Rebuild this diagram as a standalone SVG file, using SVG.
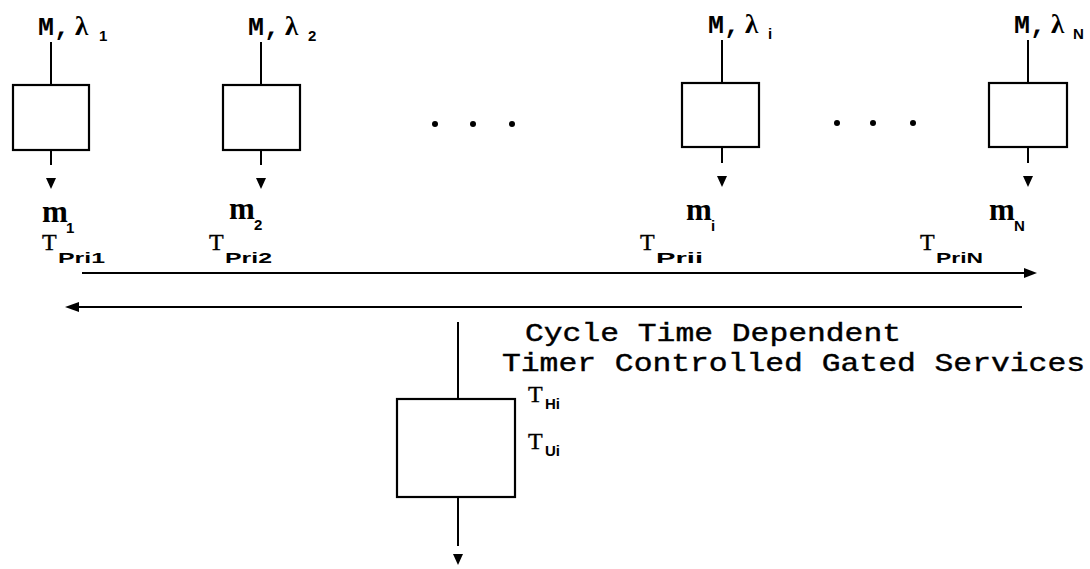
<svg xmlns="http://www.w3.org/2000/svg" width="1090" height="569" viewBox="0 0 1090 569">
<style>
.box{fill:#fff;stroke:#000;stroke-width:2.2}
.ln{stroke:#000;stroke-width:2;fill:none}
.tri{fill:#000}
.lbl{font-family:"Liberation Mono",monospace;font-weight:bold;font-size:25px;fill:#000}
.lam{font-family:"Liberation Serif",serif;font-weight:bold;font-size:27px;fill:#000}
.sub{font-family:"Liberation Sans",sans-serif;font-weight:bold;font-size:15px;fill:#000}
.mm{font-family:"Liberation Serif",serif;font-weight:bold;font-size:31px;fill:#000}
.tt{font-family:"Liberation Serif",serif;font-size:24px;fill:#000;stroke:#000;stroke-width:0.4}
.cap{font-family:"Liberation Mono",monospace;font-size:25px;fill:#000;stroke:#000;stroke-width:0.4}
</style>
<defs>
<polygon id="down" class="tri" points="-5,0 5,0 0,11"/>
</defs>
<g id="node1">
<rect class="box" x="13" y="85" width="76" height="65"/>
<text class="lbl" x="38" y="35" textLength="32" lengthAdjust="spacingAndGlyphs">M,</text><text class="lam" x="75" y="35">λ</text><text class="sub" x="99" y="41">1</text>
<text class="mm" x="42" y="222">m</text><text class="sub" x="66" y="233">1</text>
<text class="tt" x="42" y="250">T</text><text class="sub" x="58" y="263" textLength="47" lengthAdjust="spacingAndGlyphs">Pri1</text>
</g>
<g id="node2">
<rect class="box" x="223" y="85" width="77" height="65"/>
<text class="lbl" x="248" y="35" textLength="32" lengthAdjust="spacingAndGlyphs">M,</text><text class="lam" x="285" y="35">λ</text><text class="sub" x="308" y="41">2</text>
<text class="mm" x="229" y="219">m</text><text class="sub" x="254" y="230">2</text>
<text class="tt" x="209" y="250">T</text><text class="sub" x="225" y="263" textLength="47" lengthAdjust="spacingAndGlyphs">Pri2</text>
</g>
<g id="node3">
<rect class="box" x="682" y="83" width="77" height="64"/>
<text class="lbl" x="708" y="33" textLength="32" lengthAdjust="spacingAndGlyphs">M,</text><text class="lam" x="745" y="33">λ</text><text class="sub" x="768" y="39">i</text>
<text class="mm" x="686" y="220">m</text><text class="sub" x="711" y="231">i</text>
<text class="tt" x="640" y="250">T</text><text class="sub" x="656" y="263" textLength="47" lengthAdjust="spacingAndGlyphs">Prii</text>
</g>
<g id="node4">
<rect class="box" x="989" y="83" width="78" height="64"/>
<text class="lbl" x="1014" y="33" textLength="32" lengthAdjust="spacingAndGlyphs">M,</text><text class="lam" x="1051" y="33">λ</text><text class="sub" x="1073" y="39">N</text>
<text class="mm" x="989" y="220">m</text><text class="sub" x="1014" y="231">N</text>
<text class="tt" x="920" y="250">T</text><text class="sub" x="936" y="263" textLength="47" lengthAdjust="spacingAndGlyphs">PriN</text>
</g>
<g id="server">
<rect class="box" x="397" y="399" width="118" height="98"/>
<text class="tt" x="528" y="402">T</text><text class="sub" x="545" y="409">Hi</text>
<text class="tt" x="528" y="449">T</text><text class="sub" x="545" y="456">Ui</text>
</g>
<g id="caption">
<text class="cap" x="525" y="341" textLength="376" lengthAdjust="spacingAndGlyphs">Cycle Time Dependent</text>
<text class="cap" x="502" y="371" textLength="583" lengthAdjust="spacingAndGlyphs">Timer Controlled Gated Services</text>
</g>
<g id="ellipsis" class="tri">
<circle cx="435" cy="124" r="3"/><circle cx="473" cy="124" r="3"/><circle cx="512" cy="124" r="3"/>
<circle cx="837" cy="123" r="3"/><circle cx="873" cy="123" r="3"/><circle cx="913" cy="123" r="3"/>
</g>
<g id="connectors">
<line class="ln" x1="51" y1="42" x2="51" y2="85"/>
<line class="ln" x1="51" y1="150" x2="51" y2="165"/>
<use href="#down" x="51" y="178"/>
<line class="ln" x1="261" y1="42" x2="261" y2="85"/>
<line class="ln" x1="261" y1="150" x2="261" y2="165"/>
<use href="#down" x="261" y="178"/>
<line class="ln" x1="722" y1="40" x2="722" y2="83"/>
<line class="ln" x1="722" y1="147" x2="722" y2="163"/>
<use href="#down" x="722" y="176"/>
<line class="ln" x1="1028" y1="40" x2="1028" y2="83"/>
<line class="ln" x1="1028" y1="147" x2="1028" y2="163"/>
<use href="#down" x="1028" y="176"/>
<line class="ln" x1="82" y1="273" x2="1025" y2="273"/>
<polygon class="tri" points="1024,268 1037,273 1024,278"/>
<line class="ln" x1="78" y1="307" x2="1022" y2="307"/>
<polygon class="tri" points="79,302 65,307 79,312"/>
<line class="ln" x1="458" y1="322" x2="458" y2="399"/>
<line class="ln" x1="458" y1="497" x2="458" y2="546"/>
<use href="#down" x="458" y="554"/>
</g>
</svg>
